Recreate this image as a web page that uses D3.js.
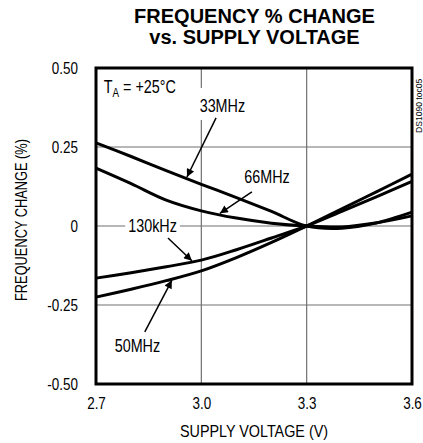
<!DOCTYPE html>
<html>
<head>
<meta charset="utf-8">
<script src="https://cdn.jsdelivr.net/npm/d3@7"></script>
<style>
  html, body { margin: 0; padding: 0; background: #fff; }
  svg { display: block; }
  .nar { font-family: "Liberation Sans", Arial, sans-serif; }
</style>
</head>
<body>
<svg id="chart" width="423" height="443"></svg>
<script>
// ---- data ----
const volts = [2.7, 2.8, 2.9, 3.0, 3.1, 3.2, 3.3, 3.4, 3.5, 3.6];
const f33MHz  = [0.263, 0.220, 0.175, 0.132, 0.090, 0.046, 0.0, -0.007, 0.010, 0.044];
const f66MHz  = [0.183, 0.134, 0.082, 0.048, 0.025, 0.009, 0.0, -0.003, 0.010, 0.032];
const f130kHz = [-0.165, -0.148, -0.129, -0.108, -0.075, -0.038, 0.0, 0.046, 0.093, 0.141];
const f50MHz  = [-0.225, -0.200, -0.173, -0.142, -0.100, -0.052, 0.0, 0.054, 0.109, 0.164];
const seriesNames = ["33MHz", "66MHz", "130kHz", "50MHz"];
const seriesValues = [f33MHz, f66MHz, f130kHz, f50MHz];

const xTicks = [2.7, 3.0, 3.3, 3.6];
const xTickLabels = ["2.7", "3.0", "3.3", "3.6"];
const yTicks = [0.5, 0.25, 0, -0.25, -0.5];
const yTickLabels = ["0.50", "0.25", "0", "-0.25", "-0.50"];

// annotations in data units: label anchor, arrow tail, arrow tip
const labelNames = ["33MHz", "66MHz", "130kHz", "50MHz"];
const labelPos   = [[3.060, 0.361], [3.187, 0.137], [2.861, 0.0], [2.818, -0.399]];
const arrowFrom  = [[3.042, 0.342], [3.144, 0.108], [2.905, -0.038], [2.839, -0.335]];
const arrowTo    = [[2.959, 0.155], [3.053, 0.040], [2.973, -0.110], [2.916, -0.172]];
const labelMasked = [true, false, true, false];

const titleLines = ["FREQUENCY % CHANGE", "vs. SUPPLY VOLTAGE"];
const xTitle = "SUPPLY VOLTAGE (V)";
const yTitle = "FREQUENCY CHANGE (%)";
const sideNote = "DS1090 toc05";

// ---- layout ----
const svg = d3.select("#chart");
const m = { left: 96, top: 68, right: 412, bottom: 384 };

const x = d3.scaleLinear().domain([2.7, 3.6]).range([m.left, m.right]);
const y = d3.scaleLinear().domain([-0.5, 0.5]).range([m.bottom, m.top]);

// condense a text element horizontally (emulates a narrow face)
function condense(sel, k) {
  sel.each(function () {
    const len = this.getComputedTextLength();
    d3.select(this).attr("textLength", len * k).attr("lengthAdjust", "spacingAndGlyphs");
  });
}

// title
const t = svg.append("text")
  .attr("text-anchor", "middle")
  .style("font-family", "'Liberation Sans', Arial, sans-serif")
  .style("font-weight", "bold")
  .style("font-size", "20px")
  .attr("fill", "#000");
t.selectAll("tspan").data(titleLines).join("tspan")
  .attr("x", (m.left + m.right) / 2 + 0.5)
  .attr("y", (d, i) => 23 + i * 20.5)
  .text(d => d);

// grid
const grid = svg.append("g").attr("stroke", "#707070").attr("stroke-width", 1.2);
grid.selectAll("line.v").data(xTicks.slice(1, -1)).join("line")
  .attr("x1", d => x(d)).attr("x2", d => x(d))
  .attr("y1", m.top).attr("y2", m.bottom);
grid.selectAll("line.h").data(yTicks.slice(1, -1)).join("line")
  .attr("y1", d => y(d)).attr("y2", d => y(d))
  .attr("x1", m.left).attr("x2", m.right);

// axes (labels only)
const xAxis = d3.axisBottom(x).tickValues(xTicks).tickSize(0).tickPadding(14)
  .tickFormat((d, i) => xTickLabels[i]);
const gx = svg.append("g").attr("transform", `translate(0,${m.bottom})`).call(xAxis);
gx.select(".domain").remove();
gx.attr("font-family", null).attr("font-size", null);
gx.selectAll("text").attr("class", "nar").style("font-size", "16px").attr("fill", "#000");
condense(gx.selectAll("text"), 0.84);

const yAxis = d3.axisLeft(y).tickValues(yTicks).tickSize(0).tickPadding(18)
  .tickFormat((d, i) => yTickLabels[i]);
const gy = svg.append("g").attr("transform", `translate(${m.left},0)`).call(yAxis);
gy.select(".domain").remove();
gy.attr("font-family", null).attr("font-size", null);
gy.selectAll("text").attr("class", "nar").style("font-size", "16px").attr("fill", "#000");
condense(gy.selectAll("text"), 0.84);

// axis titles
const xt = svg.append("text").attr("class", "nar")
  .attr("x", (m.left + m.right) / 2).attr("y", 437)
  .attr("text-anchor", "middle").style("font-size", "16.5px").text(xTitle);
condense(xt, 0.87);
const yt = svg.append("text").attr("class", "nar")
  .attr("transform", `translate(27,${(m.top + m.bottom) / 2 - 6}) rotate(-90)`)
  .attr("text-anchor", "middle").style("font-size", "16px").text(yTitle);
condense(yt, 0.8);

// curves
const line = d3.line().x(d => x(d[0])).y(d => y(d[1])).curve(d3.curveCatmullRom.alpha(0.5));
svg.append("g").selectAll("path").data(seriesValues).join("path")
  .attr("d", vals => line(volts.map((v, i) => [v, vals[i]])))
  .attr("fill", "none").attr("stroke", "#000").attr("stroke-width", 3)
  .attr("stroke-linejoin", "round");

// frame
svg.append("rect").attr("x", m.left).attr("y", m.top)
  .attr("width", m.right - m.left).attr("height", m.bottom - m.top)
  .attr("fill", "none").attr("stroke", "#000").attr("stroke-width", 3);

// temperature note
const ta = svg.append("text").attr("class", "nar")
  .attr("x", x(2.722)).attr("y", y(0.42)).style("font-size", "17.5px");
ta.append("tspan").text("T");
ta.append("tspan").attr("dy", 4).style("font-size", "12px").text("A");
ta.append("tspan").attr("dy", -4).text(" = +25\u00B0C");
condense(ta, 0.82);

// annotations
svg.append("defs").append("marker")
  .attr("id", "ah").attr("viewBox", "0 0 10 10").attr("refX", 10).attr("refY", 5)
  .attr("markerWidth", 11).attr("markerHeight", 8).attr("markerUnits", "userSpaceOnUse")
  .attr("orient", "auto")
  .append("path").attr("d", "M0,0 L10,5 L0,10 Z").attr("fill", "#000");

const ann = svg.append("g");
labelNames.forEach((name, i) => {
  const g = ann.append("g");
  const txt = g.append("text").attr("class", "nar")
    .attr("x", x(labelPos[i][0])).attr("y", y(labelPos[i][1]))
    .attr("dy", i === 2 ? "0.36em" : 0)
    .attr("text-anchor", "middle").style("font-size", "17.5px").text(name);
  condense(txt, 0.82);
  if (labelMasked[i]) {
    const b = txt.node().getBBox();
    g.insert("rect", "text").attr("x", b.x - 3).attr("y", b.y - (i === 0 ? 8 : 1))
      .attr("width", b.width + 6).attr("height", b.height + (i === 0 ? 12 : 2)).attr("fill", "#fff");
  }
  g.append("line")
    .attr("x1", x(arrowFrom[i][0])).attr("y1", y(arrowFrom[i][1]))
    .attr("x2", x(arrowTo[i][0])).attr("y2", y(arrowTo[i][1]))
    .attr("stroke", "#000").attr("stroke-width", 1.5).attr("marker-end", "url(#ah)");
});

// side note
const sn = svg.append("text").attr("class", "nar")
  .attr("transform", `translate(${m.right + 9.5},133) rotate(-90)`)
  .style("font-size", "9.5px").text(sideNote);
condense(sn, 0.9);
</script>
</body>
</html>
